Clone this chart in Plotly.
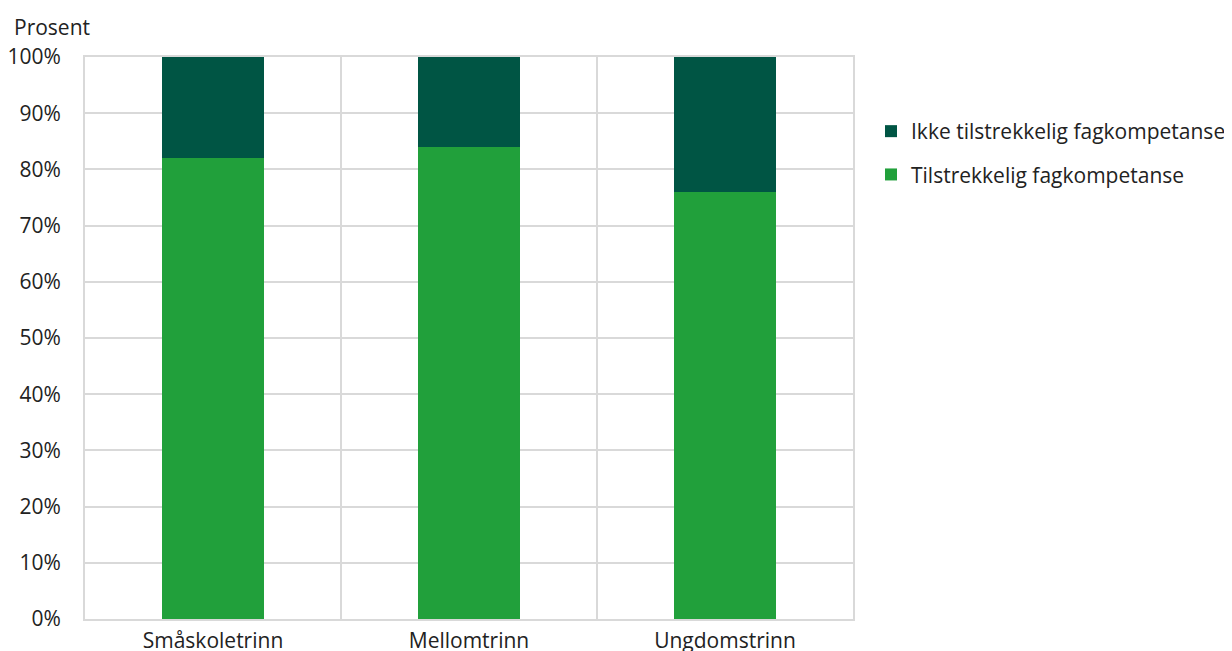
import plotly.graph_objects as go

categories = ["Småskoletrinn", "Mellomtrinn", "Ungdomstrinn"]
tilstrekkelig = [82, 84, 76]
ikke_tilstrekkelig = [18, 16, 24]
y_ticks = [0, 10, 20, 30, 40, 50, 60, 70, 80, 90, 100]
y_tick_labels = [f"{v}%" for v in y_ticks]

FONT = "Open Sans"
FS = 21
OFF = 8  # page body margin
W, H = 1232, 651
L, R, T, B = 85 - OFF, W - 853 + OFF, 57 - OFF, H - 619 + OFF

fig = go.Figure()
fig.add_trace(go.Bar(
    x=categories, y=tilstrekkelig, name="Tilstrekkelig fagkompetanse",
    marker=dict(color="#21A03B", line=dict(width=0)), width=0.4,
    legendgroup="a", legendrank=2))
fig.add_trace(go.Bar(
    x=categories, y=ikke_tilstrekkelig, name="Ikke tilstrekkelig fagkompetanse",
    marker=dict(color="#005544", line=dict(width=0)), width=0.4,
    legendgroup="b", legendrank=1))

plot_w = W - L - R
plot_h = H - T - B

fig.update_layout(
    barmode="stack",
    width=W, height=H,
    margin=dict(l=L, r=R, t=T, b=B, autoexpand=False),
    plot_bgcolor="white", paper_bgcolor="white",
    font=dict(family=FONT, size=FS, color="#222222"),
    legend=dict(x=(871 - 85) / plot_w, y=(619 - 111) / plot_h,
                xanchor="left", yanchor="top",
                traceorder="grouped", tracegroupgap=13,
                font=dict(family=FONT, size=FS, color="#222222"),
                bgcolor="rgba(0,0,0,0)"),
    xaxis=dict(type="category", tickson="boundaries", showgrid=True,
               gridcolor="#d9d9d9", gridwidth=2, ticks="", showline=True,
               linecolor="#d9d9d9", linewidth=2, mirror=True, automargin=False,
               range=[-0.5, 2.5], tickfont=dict(size=FS), ticklabelstandoff=2),
    yaxis=dict(range=[0, 100], tickvals=y_ticks, ticktext=y_tick_labels,
               showgrid=True, gridcolor="#d9d9d9", gridwidth=2,
               zeroline=False, showline=True, linecolor="#d9d9d9",
               linewidth=2, mirror=True, ticks="", automargin=False,
               ticklabelstandoff=18, tickfont=dict(size=FS)),
    annotations=[dict(text="Prosent", x=(12 - 85) / plot_w,
                      y=(619 - 27) / plot_h, xref="paper", yref="paper",
                      xanchor="left", yanchor="middle",
                      showarrow=False, font=dict(size=FS))],
)
fig.write_html("out.html")
